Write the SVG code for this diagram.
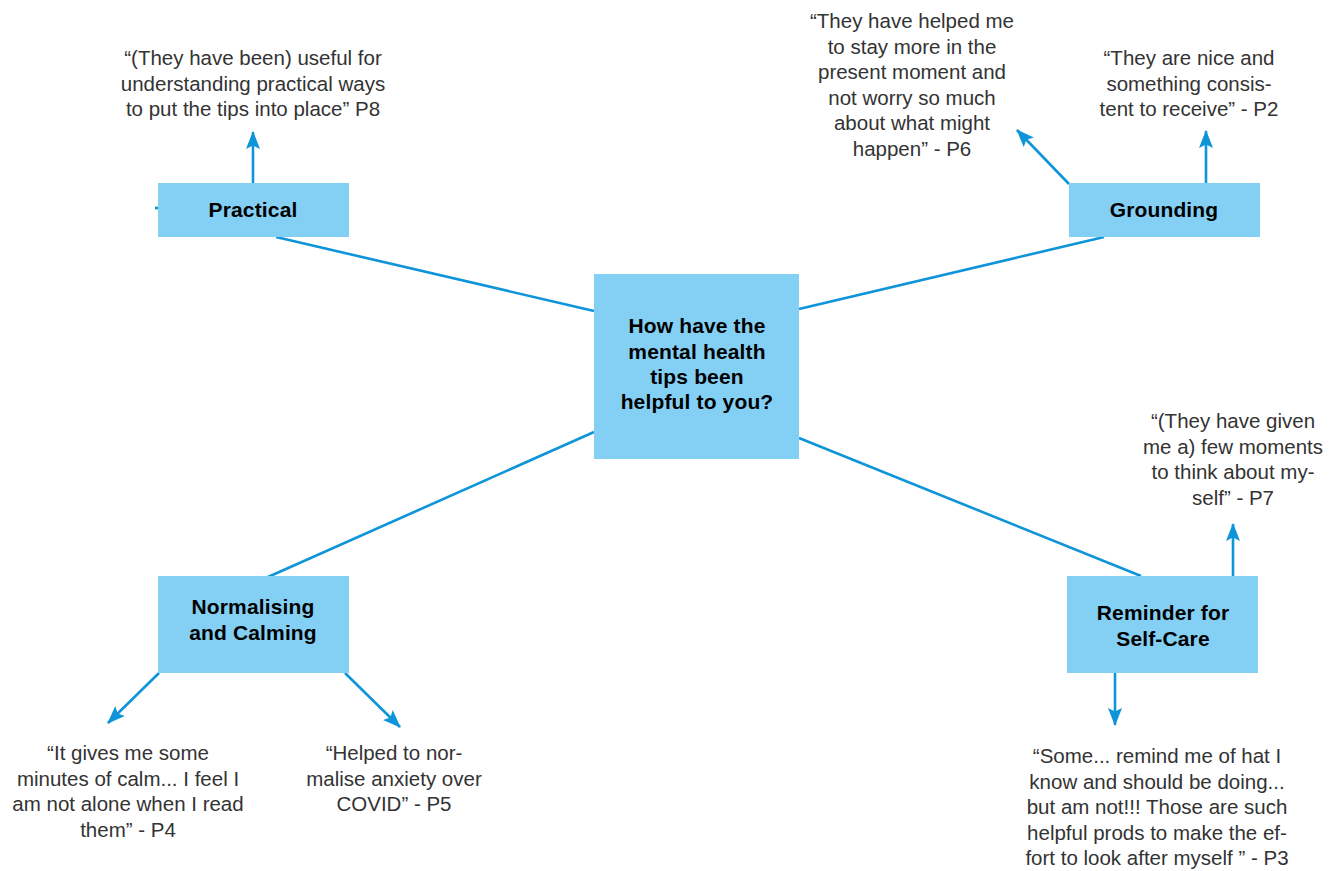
<svg xmlns="http://www.w3.org/2000/svg" width="1335" height="871" viewBox="0 0 1335 871">
<style>
.box{fill:#84D0F5}
.lbl{font-family:"Liberation Sans",Arial,sans-serif;font-weight:bold;font-size:21px;letter-spacing:0.15px;fill:#000;text-anchor:middle}
.q{font-family:"Liberation Sans",Arial,sans-serif;font-size:20.5px;fill:#333;text-anchor:middle}
.ln{stroke:#0E94D9;stroke-width:2.6;fill:none}
.ar{stroke:#0E94D9;stroke-width:2.6;fill:none;marker-end:url(#ah)}
</style>
<defs>
<marker id="ah" markerUnits="userSpaceOnUse" markerWidth="18" markerHeight="14" viewBox="0 0 18 14" refX="17" refY="7" orient="auto">
<path d="M0,0 L18,7 L0,14 L3.5,7 z" fill="#0E94D9"/>
</marker>
</defs>
<rect width="1335" height="871" fill="#fff"/>
<g id="connectors">
<line class="ln" x1="594" y1="311" x2="276" y2="237"/>
<line class="ln" x1="799" y1="309" x2="1104" y2="237"/>
<line class="ln" x1="594" y1="432" x2="268" y2="577"/>
<line class="ln" x1="799" y1="438" x2="1141" y2="576"/>
<line class="ar" x1="253" y1="183" x2="253" y2="132"/>
<line class="ln" x1="155" y1="208" x2="158" y2="208" stroke-width="1.5"/>
<line class="ar" x1="1206" y1="183" x2="1206" y2="131"/>
<line class="ar" x1="1069" y1="184" x2="1017" y2="130"/>
<line class="ar" x1="159" y1="673" x2="108" y2="723"/>
<line class="ar" x1="345" y1="673" x2="400" y2="727"/>
<line class="ar" x1="1233" y1="576" x2="1233" y2="524"/>
<line class="ar" x1="1115" y1="673" x2="1115" y2="725"/>
</g>
<g id="center">
<rect class="box" x="594" y="274" width="205" height="185"/>
<text class="lbl"><tspan x="697" y="333">How have the</tspan><tspan x="697" y="358.5">mental health</tspan><tspan x="697" y="384">tips been</tspan><tspan x="697" y="409">helpful to you?</tspan></text>
</g>
<g id="practical">
<rect class="box" x="158" y="183" width="191" height="54"/>
<text class="lbl" x="253" y="217">Practical</text>
</g>
<g id="grounding">
<rect class="box" x="1069" y="183" width="191" height="54"/>
<text class="lbl" x="1164" y="217">Grounding</text>
</g>
<g id="normalising">
<rect class="box" x="158" y="576" width="191" height="97"/>
<text class="lbl"><tspan x="253" y="614">Normalising</tspan><tspan x="253" y="640">and Calming</tspan></text>
</g>
<g id="reminder">
<rect class="box" x="1067" y="576" width="191" height="97"/>
<text class="lbl"><tspan x="1163" y="620">Reminder for</tspan><tspan x="1163" y="646">Self-Care</tspan></text>
</g>
<g id="quote-p8">
<text class="q"><tspan x="253" y="65">“(They have been) useful for</tspan><tspan x="253" y="90.5">understanding practical ways</tspan><tspan x="253" y="116">to put the tips into place” P8</tspan></text>
</g>
<g id="quote-p6">
<text class="q"><tspan x="912" y="28">“They have helped me</tspan><tspan x="912" y="53.6">to stay more in the</tspan><tspan x="912" y="79.2">present moment and</tspan><tspan x="912" y="104.8">not worry so much</tspan><tspan x="912" y="130.4">about what might</tspan><tspan x="912" y="156">happen” - P6</tspan></text>
</g>
<g id="quote-p2">
<text class="q"><tspan x="1189" y="65">“They are nice and</tspan><tspan x="1189" y="90.5">something consis-</tspan><tspan x="1189" y="116">tent to receive” - P2</tspan></text>
</g>
<g id="quote-p4">
<text class="q"><tspan x="128" y="760">“It gives me some</tspan><tspan x="128" y="786">minutes of calm... I feel I</tspan><tspan x="128" y="811">am not alone when I read</tspan><tspan x="128" y="837">them” - P4</tspan></text>
</g>
<g id="quote-p5">
<text class="q"><tspan x="394" y="760">“Helped to nor-</tspan><tspan x="394" y="786">malise anxiety over</tspan><tspan x="394" y="811">COVID” - P5</tspan></text>
</g>
<g id="quote-p7">
<text class="q"><tspan x="1233" y="428">“(They have given</tspan><tspan x="1233" y="453.7">me a) few moments</tspan><tspan x="1233" y="479.3">to think about my-</tspan><tspan x="1233" y="505">self” - P7</tspan></text>
</g>
<g id="quote-p3">
<text class="q"><tspan x="1157" y="763">“Some... remind me of hat I</tspan><tspan x="1157" y="788.5">know and should be doing...</tspan><tspan x="1157" y="814">but am not!!! Those are such</tspan><tspan x="1157" y="839.5">helpful prods to make the ef-</tspan><tspan x="1157" y="865">fort to look after myself ” - P3</tspan></text>
</g>
</svg>
